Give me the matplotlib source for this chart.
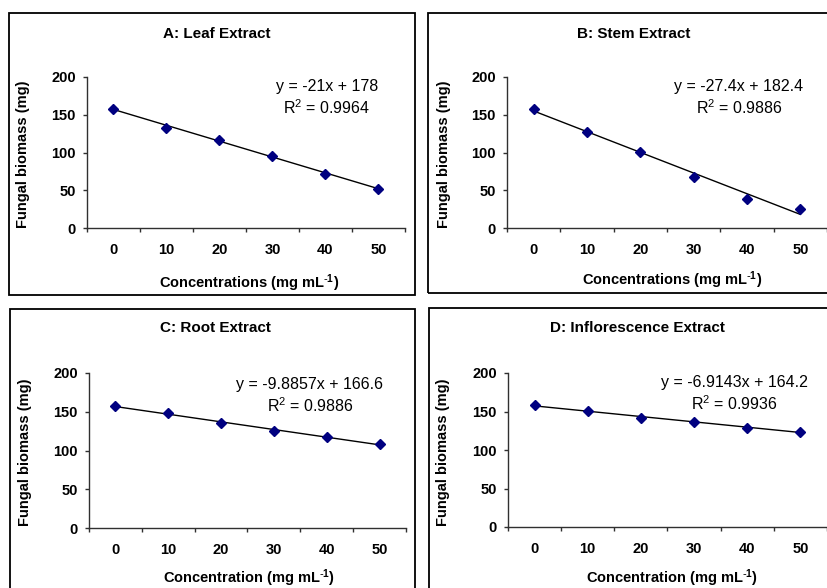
import matplotlib
matplotlib.use("Agg")
import matplotlib.pyplot as plt
from matplotlib.patches import Rectangle
import numpy as np

plt.rcParams['font.family'] = ['Liberation Sans', 'DejaVu Sans']
plt.rcParams['mathtext.default'] = 'regular'

# Data
concentrations = ["0", "10", "20", "30", "40", "50"]
titles = ["A: Leaf Extract", "B: Stem Extract", "C: Root Extract", "D: Inflorescence Extract"]
xlabels = [r"Concentrations (mg mL$^{\text{-}1}$)", r"Concentrations (mg mL$^{\text{-}1}$)",
           r"Concentration (mg mL$^{\text{-}1}$)", r"Concentration (mg mL$^{\text{-}1}$)"]
leaf = [158, 132, 117, 95, 72, 51]
stem = [158, 127, 101, 67, 38, 25]
root = [158, 148, 136, 125, 118, 109]
inflorescence = [159, 151, 142, 137, 129, 124]
slopes = [-21, -27.4, -9.8857, -6.9143]
intercepts = [178, 182.4, 166.6, 164.2]
r_squared = ["0.9964", "0.9886", "0.9886", "0.9936"]
eq_texts = ["y = -21x + 178", "y = -27.4x + 182.4", "y = -9.8857x + 166.6", "y = -6.9143x + 164.2"]
series = [leaf, stem, root, inflorescence]

W, H = 828, 588
fig = plt.figure(figsize=(W / 100, H / 100), dpi=100)


def fx(px):
    return px / W


def fy(py):
    return 1 - py / H


# panel layout in pixels: box (l, t, r, b), axes (x0, x1, ytop, ybottom),
# title centre, equation centre, xlabel centre, ylabel x
panels = [
    dict(box=(9, 13, 415, 295), ax=(87, 405, 77, 228), title=(217, 34),
         eq=(327, 86), xl=(249, 283), yl=23),
    dict(box=(428, 13, 832, 293), ax=(507, 827, 77, 228), title=(634, 34),
         eq=(739, 86), xl=(672, 280), yl=444),
    dict(box=(10, 309, 415, 592), ax=(89, 406, 373, 528), title=(215, 328),
         eq=(310, 384), xl=(249, 578), yl=25),
    dict(box=(429, 308, 832, 592), ax=(508, 827, 373, 527), title=(637, 328),
         eq=(734, 382), xl=(672, 578), yl=443),
]

for i, p in enumerate(panels):
    l, t, r, b = p['box']
    fig.patches.append(Rectangle((fx(l), fy(b)), fx(r - l), (b - t) / H,
                                 transform=fig.transFigure, fill=False,
                                 edgecolor='black', linewidth=1.3))
    x0, x1, yt, yb = p['ax']
    ax = fig.add_axes([fx(x0), fy(yb), fx(x1 - x0), (yb - yt) / H])
    xs = np.arange(1, len(concentrations) + 1)
    ys = series[i]
    xfit = np.array([xs[0], xs[-1]], dtype=float)
    ax.plot(xfit, slopes[i] * xfit + intercepts[i], color='black', linewidth=1.0, zorder=2)
    ax.plot(xs, ys, linestyle='none', marker='D', markersize=5,
            color='#000080', markeredgecolor='#000080', zorder=3)
    ax.set_xlim(0.5, len(concentrations) + 0.5)
    ax.set_ylim(0, 200)
    ax.set_yticks([0, 50, 100, 150, 200])
    ax.set_xticks(np.arange(0.5, len(concentrations) + 1, 1.0))
    ax.set_xticklabels([])
    ax.set_xticks(xs, minor=True)
    ax.set_xticklabels(concentrations, minor=True)
    for s in ['top', 'right']:
        ax.spines[s].set_visible(False)
    for s in ['left', 'bottom']:
        ax.spines[s].set_color('#303030')
        ax.spines[s].set_linewidth(1.0)
    ax.tick_params(axis='both', which='major', direction='out', length=3,
                   width=1.0, color='#303030', labelsize=10.5)
    ax.tick_params(axis='y', which='major', pad=5)
    ax.tick_params(axis='x', which='minor', length=0, pad=10.5, labelsize=10.5)
    for lab in ax.get_yticklabels() + ax.get_xticklabels(minor=True):
        lab.set_fontweight('bold')
    ax.set_facecolor('none')

    fig.text(fx(p['title'][0]), fy(p['title'][1]), titles[i], ha='center', va='center',
             fontsize=11, fontweight='bold')
    ex, ey = p['eq']
    fig.text(fx(ex), fy(ey), eq_texts[i], ha='center', va='center', fontsize=11.5)
    fig.text(fx(ex), fy(ey + 22), "R$^2$ = " + r_squared[i], ha='center', va='center',
             fontsize=11.5)
    fig.text(fx(p['xl'][0]), fy(p['xl'][1]), xlabels[i], ha='center', va='center',
             fontsize=10.5, fontweight='bold')
    fig.text(fx(p['yl']), fy((yt + yb) / 2 + 2), "Fungal biomass (mg)", ha='center',
             va='center', rotation=90, fontsize=10.5, fontweight='bold')

fig.savefig("out.png", dpi=100, facecolor='white')
